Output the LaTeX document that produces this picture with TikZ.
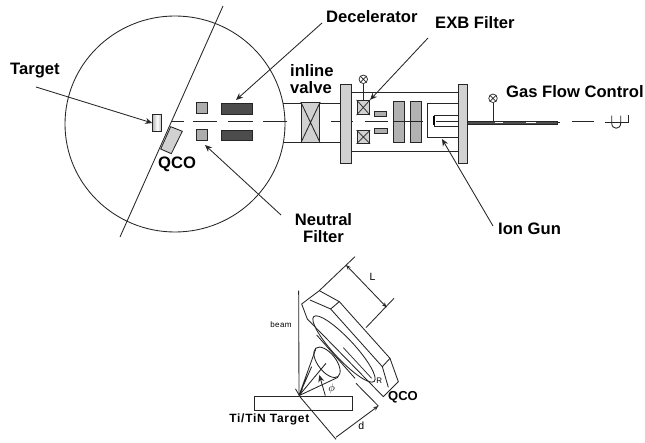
\documentclass[tikz,border=0pt]{standalone}
\usepackage{fontspec}
\setmainfont{Liberation Sans}
\usetikzlibrary{arrows.meta}
\definecolor{fillgrey}{gray}{0.68}
\definecolor{lightfill}{gray}{0.82}
\definecolor{darkfill}{gray}{0.3}
\definecolor{linegrey}{gray}{0.15}
\tikzset{
 lab/.style={font=\bfseries\fontsize{16.6}{17.5}\selectfont,text=black,inner sep=0pt,align=center},
 ln/.style={draw=linegrey,line width=0.85pt},
 pointer/.style={ln,-{Stealth[length=7pt,width=6pt]}},
 part/.style={ln,fill=fillgrey},
 lightpart/.style={ln,fill=lightfill},
 dark/.style={ln,fill=darkfill},
 axisline/.style={draw=linegrey,line width=0.7pt},
 thinpart/.style={draw=linegrey,line width=0.7pt},
 gauge/.style={circle,draw=linegrey,line width=0.7pt,fill=white,minimum size=8.5pt,inner sep=0pt},
 small/.style={font=\fontsize{8}{9}\selectfont,inner sep=0pt},
 dimtext/.style={font=\fontsize{10.5}{11}\selectfont,inner sep=0pt},
}
\begin{document}
\begin{tikzpicture}[x=1pt,y=-1pt]
\useasboundingbox (0,0) rectangle (645,443);
\fill[white] (0,0) rectangle (645,443);
% chamber
\draw[ln] (175,124) ellipse [x radius=110,y radius=108];
\coordinate (cutA) at (223,6); \coordinate (cutB) at (120,237);
\draw[ln] (cutA) -- (cutB);
% axis
\foreach \a/\b in {172/184,193/217,228/253,263/287,331/353,365/388,400/423,440/458,571.7/593.5}
  \draw[axisline] (\a,121.7) -- (\b,121.7);
% tube and valve
\draw[ln] (283,103) -- (341,103) (284,142) -- (341,142);
\node[lightpart,minimum width=18.5pt,minimum height=40pt,inner sep=0pt] (valve) at (310.5,122.5) {};
\draw[ln] (valve.north west) -- (valve.south east) (valve.north east) -- (valve.south west);
% target side parts
\node[ln,left color=gray!55,right color=gray!55,middle color=white,minimum width=9pt,minimum height=17.5pt,inner sep=0pt] (target) at (157.2,123) {};
\draw[ln,fill=lightfill] (170.7,126.7) -- (182.3,131.3) -- (171.3,153.7) -- (160.7,149) -- cycle;
\node[part,minimum size=11pt,inner sep=0pt] (nfA) at (201.8,108) {};
\node[part,minimum size=11pt,inner sep=0pt] (nfB) at (201.8,135.3) {};
\node[dark,minimum width=30.5pt,minimum height=10.7pt,inner sep=0pt] (decA) at (236.7,108.7) {};
\node[dark,minimum width=30.5pt,minimum height=10pt,inner sep=0pt] (decB) at (236.7,135.3) {};
% ion column
\draw[ln] (351,92.3) -- (458,92.3) (351,151.3) -- (458,151.3);
\node[lightpart,minimum width=10.3pt,minimum height=79pt,inner sep=0pt] (flA) at (345.8,123.8) {};
\node[lightpart,minimum width=9.3pt,minimum height=79pt,inner sep=0pt] (flB) at (462.7,123.8) {};
\node[lightpart,minimum width=12.7pt,minimum height=14.4pt,inner sep=0pt] (exA) at (363.3,107.5) {};
\node[lightpart,minimum width=12.7pt,minimum height=12.6pt,inner sep=0pt] (exB) at (363.3,137) {};
\foreach \n in {exA,exB} \draw[thinpart] (\n.north west) -- (\n.south east) (\n.north east) -- (\n.south west);
\node[part,minimum width=12.4pt,minimum height=5pt,inner sep=0pt] (smA) at (380.5,114.2) {};
\node[part,minimum width=13.7pt,minimum height=5.3pt,inner sep=0pt] (smB) at (380.8,130.7) {};
\node[part,fill=lightfill!85!black,minimum width=11.3pt,minimum height=40.3pt,inner sep=0pt] (plA) at (398.7,121.8) {};
\node[part,fill=lightfill!85!black,minimum width=11.3pt,minimum height=40.3pt,inner sep=0pt] (plB) at (415.7,121.8) {};
\draw[axisline] (394,121.7) -- (421,121.7);
\draw[ln] (458,103.7) -- (427.7,103.7) -- (427.7,137.7) -- (458,137.7);
\draw[ln] (458,115) -- (434,115) -- (434,126) -- (458,126);
\draw[ln] (436,121.7) -- (458,121.7);
\draw[draw=black,line width=2.2pt] (434,116) -- (434,125);
% rod
\node[draw=linegrey,fill=darkfill,line width=0.5pt,minimum width=89.7pt,minimum height=3.3pt,inner sep=0pt] (rod) at (512,122.7) {};
\draw[white,line width=0.7pt] (495,122.7) -- (503,122.7) (526,122.7) -- (536,122.7);
\draw[axisline] (rod.east) -- (560,122.7);
% gauges
\node[gauge] (gA) at (363.3,79.3) {};
\draw[thinpart] (gA.south) -- (exA.north);
\draw[thinpart] (gA.north west) -- (gA.south east) (gA.north east) -- (gA.south west);
\node[gauge] (gB) at (493,98.3) {};
\draw[thinpart] (gB.south) -- (493,121);
\draw[thinpart] (gB.north west) -- (gB.south east) (gB.north east) -- (gB.south west);
% gas trap
\draw[thinpart] (605,122) -- (628,122) -- (628,115);
\draw[ln] (611.7,115.7) -- (611.7,123) .. controls (611.7,130) and (620.7,130) .. (620.7,123) -- (620.7,115.7);
% labels and pointers
\node[lab,anchor=west] (tTarget) at (10,71) {Target};
\coordinate (tTargetTail) at (36,87);
\draw[pointer] (tTargetTail) -- (target.west);
\node[lab,anchor=west] (tQco) at (158,164) {QCO};
\node[lab,anchor=west] (tDec) at (326,17) {Decelerator};
\coordinate (tDecTail) at (322,23);
\draw[pointer] (tDecTail) -- (236,100);
\node[lab,align=left,anchor=west] (tValve) at (290,79) {inline\\valve};
\node[lab,anchor=west] (tExb) at (435,23) {EXB Filter};
\coordinate (tExbTail) at (428,38);
\draw[pointer] (tExbTail) -- (exA.north east);
\node[lab,anchor=west] (tGas) at (506,92) {Gas Flow Control};
\node[lab] (tNeutral) at (323.5,228) {Neutral\\Filter};
\coordinate (tNeutralTail) at (281,215);
\draw[pointer] (tNeutralTail) -- (205,145);
\node[lab,anchor=west] (tIon) at (498,229) {Ion Gun};
\coordinate (tIonTail) at (493,226);
\draw[pointer] (tIonTail) -- (442,139);
% lower figure, in 3x zoom units
\begin{scope}[shift={(220,250)},x=0.3333pt,y=-0.3333pt]
 \draw[ln] (245,162) -- (298,122) -- (358,155) -- (332,177) -- (270,150);
 \draw[ln] (358,155) -- (510,325) -- (535,395) -- (490,440) -- (262,207) -- (245,162);
 \draw[ln] (510,325) -- (487,350) -- (505,412);
 \draw[ln] (487,350) -- (332,177);
 \draw[ln] (290,255) -- (405,385);
 \draw[ln] (372,297) ellipse [x radius=133,y radius=31,rotate=-47];
 \draw[thinpart] (370,293) -- (455,385);
 \node[small,fill=white,inner sep=0.5pt] (tR) at (478,393) {R};
 % cone
 \coordinate (apex) at (237,437);
 \draw[ln,fill=white] (321,337) ellipse [x radius=54,y radius=27,rotate=-52];
 \draw[ln] (apex) -- (288,295) (apex) -- (354,382) (apex) -- (275,350) (apex) -- (318,340);
 \draw[pointer] (316,437) -- (298,375);
 \node[dimtext] (tPhi) at (335,415) {$\phi$};
 % beam
 \node[small,font=\addfontfeature{LetterSpace=5}\fontsize{8}{9}\selectfont] (tBeam) at (183,225) {beam};
 \coordinate (beamTop) at (236,122);
 \draw[ln,-{Straight Barb[length=6pt,width=7pt]}] (beamTop) -- (apex);
 % target slab
 \node[ln,minimum width=98pt,minimum height=14pt,inner sep=0pt] (slab) at (250,459) {};
 \node[font=\bfseries\fontsize{12}{13}\selectfont\addfontfeature{LetterSpace=6},inner sep=0pt] (tSlab) at (148,509) {Ti/TiN Target};
 \node[lab,font=\bfseries\fontsize{13}{14}\selectfont] (tQ2) at (549,441) {QCO};
 % L dimension
 \coordinate (la) at (405,20); \coordinate (lb) at (298,122);
 \coordinate (lc) at (522,145); \coordinate (ld) at (438,233);
 \draw[ln] (la) -- (lb) (lc) -- (ld);
 \draw[ln,{Stealth[length=5pt,width=4pt]}-{Stealth[length=5pt,width=4pt]}] (378,45) -- (500,172);
 \node[dimtext] (tL) at (458,82) {L};
 % d dimension
 \coordinate (db) at (348,568);
 \coordinate (dc) at (408,400); \coordinate (dd) at (475,468);
 \draw[ln] (apex) -- (db) (dc) -- (dd);
 \draw[ln,-{Stealth[length=5pt,width=4pt]}] (348,562) -- (475,468);
 \node[dimtext] (td) at (424,528) {d};
\end{scope}
\end{tikzpicture}
\end{document}
